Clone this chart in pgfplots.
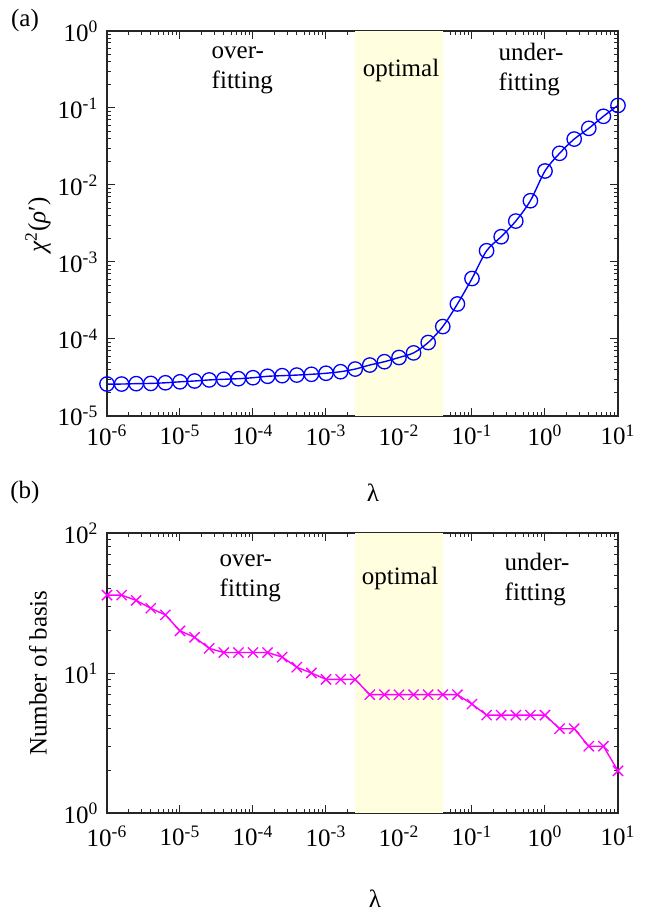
\documentclass[border=0pt]{standalone}
\usepackage{fontspec}
\setmainfont{Liberation Serif}
\usepackage{pgfplots}
\pgfplotsset{compat=1.18}
\definecolor{optfill}{RGB}{255,255,224}
\definecolor{cblue}{RGB}{0,0,255}
\definecolor{cmag}{RGB}{255,0,255}

\begin{document}
\fontsize{12.5}{15}\selectfont
\begin{tikzpicture}
\path[use as bounding box] (0,0) rectangle (332pt,460.5pt);

% (a) chi^2 against lambda
\begin{axis}[
  xmode=log, ymode=log,
  scale only axis, width=255.5pt, height=192.5pt,
  anchor=south west, at={(53.5pt,252.5pt)},
  xmin=1e-6, xmax=10, ymin=1e-5, ymax=1,
  axis line style={line width=0.8pt, black!85},
  tick style={black!85, line width=0.5pt},
  major tick length=4pt, minor tick length=2pt,
  tick pos=both, tick align=inside,
  xtick={1e-6,1e-5,1e-4,1e-3,1e-2,1e-1,1,10},
  xticklabels={10\textsuperscript{-6},10\textsuperscript{-5},10\textsuperscript{-4},10\textsuperscript{-3},10\textsuperscript{-2},10\textsuperscript{-1},10\textsuperscript{0},10\textsuperscript{1}},
  ytick={1e-5,1e-4,1e-3,1e-2,1e-1,1},
  yticklabels={10\textsuperscript{-5},10\textsuperscript{-4},10\textsuperscript{-3},10\textsuperscript{-2},10\textsuperscript{-1},10\textsuperscript{0}},
  ticklabel style={font=\fontsize{12.5}{15}\selectfont},
  clip=false,
]
\addplot[draw=none, fill=optfill] coordinates {
  (2.512e-3,1e-5) (3.981e-2,1e-5) (3.981e-2,1) (2.512e-3,1)} -- cycle;
\addplot[cblue, line width=0.7pt, smooth, mark=o, mark size=3.6pt,
  mark options={line width=0.65pt}] coordinates {
  (1e-6,2.6e-5) (1.585e-6,2.6e-5) (2.512e-6,2.63e-5) (3.981e-6,2.65e-5)
  (6.310e-6,2.7e-5) (1e-5,2.78e-5) (1.585e-5,2.85e-5) (2.512e-5,2.94e-5)
  (3.981e-5,3.0e-5) (6.310e-5,3.05e-5) (1e-4,3.14e-5) (1.585e-4,3.28e-5)
  (2.512e-4,3.34e-5) (3.981e-4,3.4e-5) (6.310e-4,3.48e-5) (1e-3,3.59e-5)
  (1.585e-3,3.76e-5) (2.512e-3,4.07e-5) (3.981e-3,4.59e-5) (6.310e-3,5.07e-5)
  (1e-2,5.75e-5) (1.585e-2,6.6e-5) (2.512e-2,9.0e-5) (3.981e-2,1.45e-4)
  (6.310e-2,2.85e-4) (1e-1,6.1e-4) (1.585e-1,1.40e-3) (2.512e-1,2.13e-3)
  (3.981e-1,3.4e-3) (6.310e-1,6.25e-3) (1,1.52e-2) (1.585,2.58e-2)
  (2.512,3.95e-2) (3.981,5.44e-2) (6.310,7.8e-2) (10,0.108)
};
\end{axis}

% (b) number of basis against lambda
\begin{axis}[
  xmode=log, ymode=log,
  scale only axis, width=255.5pt, height=140pt,
  anchor=south west, at={(53.5pt,54pt)},
  xmin=1e-6, xmax=10, ymin=1, ymax=100,
  axis line style={line width=0.8pt, black!85},
  tick style={black!85, line width=0.5pt},
  major tick length=4pt, minor tick length=2pt,
  tick pos=both, tick align=inside,
  xtick={1e-6,1e-5,1e-4,1e-3,1e-2,1e-1,1,10},
  xticklabels={10\textsuperscript{-6},10\textsuperscript{-5},10\textsuperscript{-4},10\textsuperscript{-3},10\textsuperscript{-2},10\textsuperscript{-1},10\textsuperscript{0},10\textsuperscript{1}},
  ytick={1,10,100},
  yticklabels={10\textsuperscript{0},10\textsuperscript{1},10\textsuperscript{2}},
  ticklabel style={font=\fontsize{12.5}{15}\selectfont},
  xticklabel style={yshift=-2pt},
  clip=false,
]
\addplot[draw=none, fill=optfill] coordinates {
  (2.512e-3,1) (3.981e-2,1) (3.981e-2,100) (2.512e-3,100)} -- cycle;
\addplot[cmag, line width=0.7pt, mark=x, mark size=3.6pt,
  mark options={line width=0.65pt}] coordinates {
  (1e-6,36) (1.585e-6,36) (2.512e-6,33) (3.981e-6,29)
  (6.310e-6,26) (1e-5,20) (1.585e-5,18) (2.512e-5,15)
  (3.981e-5,14) (6.310e-5,14) (1e-4,14) (1.585e-4,14)
  (2.512e-4,13) (3.981e-4,11) (6.310e-4,10) (1e-3,9)
  (1.585e-3,9) (2.512e-3,9) (3.981e-3,7) (6.310e-3,7)
  (1e-2,7) (1.585e-2,7) (2.512e-2,7) (3.981e-2,7)
  (6.310e-2,7) (1e-1,6) (1.585e-1,5) (2.512e-1,5)
  (3.981e-1,5) (6.310e-1,5) (1,5) (1.585,4)
  (2.512,4) (3.981,3) (6.310,3) (10,2)
};
\end{axis}

% labels
\node at (12.5pt,450.5pt) {(a)};
\node at (12.5pt,214.5pt) {(b)};
\node[rotate=90] at (19pt,348pt) {\textit{χ}\textsuperscript{2}(\textit{ρ}′)};
\node[rotate=90] at (19pt,124pt) {Number of basis};
\node at (186.5pt,214pt) {λ};
\node at (187.5pt,11pt) {λ};

\node[anchor=west, align=left] at (101.5pt,425.5pt) {over-\\fitting};
\node at (200.5pt,425.5pt) {optimal};
\node[anchor=west, align=left] at (245pt,425.5pt) {under-\\fitting};
\node[anchor=west, align=left] at (105.5pt,171.5pt) {over-\\fitting};
\node at (200pt,171.5pt) {optimal};
\node[anchor=west, align=left] at (248pt,170.5pt) {under-\\fitting};
\end{tikzpicture}
\end{document}
